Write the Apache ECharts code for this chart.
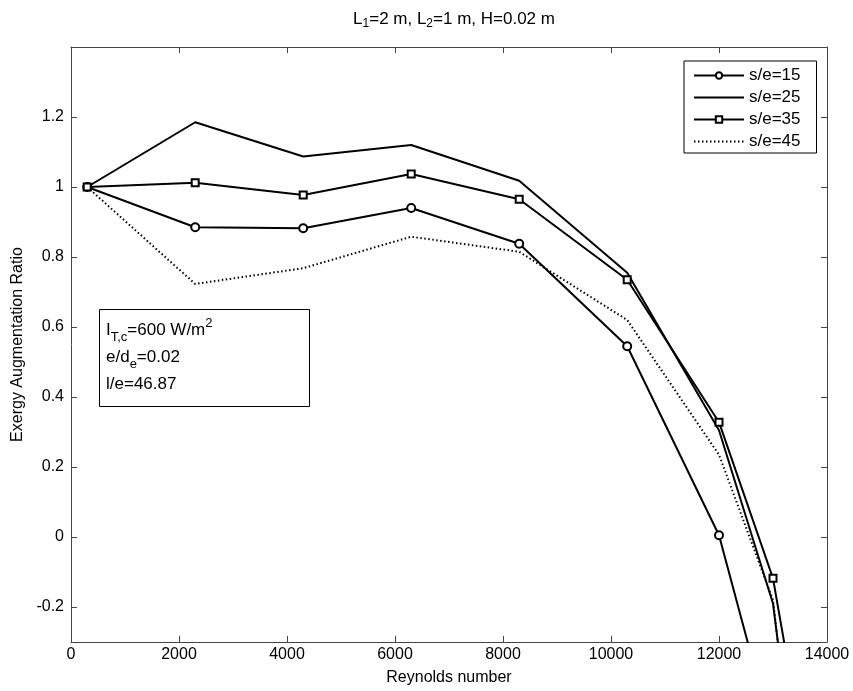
<!DOCTYPE html>
<html>
<head>
<meta charset="utf-8">
<title>Exergy Augmentation Ratio</title>
<script src="https://cdn.jsdelivr.net/npm/echarts@6/dist/echarts.min.js"></script>
<style>
  html, body { margin: 0; padding: 0; background: #fff; }
  #chart { width: 853px; height: 691px; }
</style>
</head>
<body>
<div id="chart"></div>
<script>
// data
const reynolds = [300, 2300, 4300, 6300, 8300, 10300, 12000, 13000, 13500]
const se15 = [1.0, 0.885, 0.882, 0.94, 0.838, 0.545, 0.005, -0.57, -1.1]
const se25 = [1.0, 1.185, 1.087, 1.12, 1.018, 0.755, 0.305, -0.19, -0.8]
const se35 = [1.0, 1.012, 0.977, 1.037, 0.965, 0.735, 0.328, -0.118, -0.56]
const se45 = [1.0, 0.723, 0.768, 0.858, 0.815, 0.62, 0.235, -0.18, -0.85]
const yTicks = [-0.2, 0, 0.2, 0.4, 0.6, 0.8, 1.0, 1.2]

const font = 'Liberation Sans, Arial, sans-serif'
const axisColor = '#444'

function pairs(ys) {
  return ys.map((y, i) => [reynolds[i], y])
}

function lineSeries(name, ys, opts) {
  return Object.assign({
    name: name,
    type: 'line',
    data: pairs(ys),
    xAxisIndex: 0,
    yAxisIndex: 0,
    symbol: 'none',
    symbolSize: 8,
    showAllSymbol: true,
    clip: true,
    animation: false,
    color: '#000',
    lineStyle: {color: '#000', width: 2},
    itemStyle: {color: '#fff', borderColor: '#000', borderWidth: 2}
  }, opts)
}

const chart = echarts.init(document.getElementById('chart'))

const option = {
  backgroundColor: '#fff',
  animation: false,
  textStyle: {fontFamily: font},
  title: {
    text: 'L{sub|1}=2 m, L{sub|2}=1 m, H=0.02 m',
    left: 449,
    textAlign: 'center',
    top: 3,
    textStyle: {
      fontFamily: font,
      fontSize: 17,
      fontWeight: 'normal',
      color: '#000',
      lineHeight: 22,
      rich: {
        sub: {fontFamily: font, fontSize: 12, lineHeight: 11, verticalAlign: 'bottom', color: '#000'}
      }
    }
  },
  legend: {
    left: 684,
    top: 61,
    orient: 'vertical',
    backgroundColor: '#fff',
    borderColor: '#000',
    borderWidth: 1,
    borderRadius: 0,
    padding: [6, 16, 3, 9],
    itemWidth: 50,
    itemHeight: 8,
    itemGap: 5,
    textStyle: {fontFamily: font, fontSize: 17, color: '#000'},
    data: [
      {name: 's/e=15'},
      {name: 's/e=25', itemStyle: {opacity: 0}},
      {name: 's/e=35'},
      {name: 's/e=45', itemStyle: {opacity: 0}}
    ]
  },
  grid: {left: 71, right: 26, top: 47, bottom: 47},
  xAxis: [
    {
      type: 'value',
      min: 0,
      max: 14000,
      interval: 2000,
      name: 'Reynolds number',
      nameLocation: 'middle',
      nameGap: 28,
      nameTextStyle: {fontFamily: font, fontSize: 16, color: '#000'},
      axisLine: {onZero: false, lineStyle: {color: axisColor, width: 1}},
      axisTick: {inside: true, length: 6, lineStyle: {color: axisColor}},
      axisLabel: {fontFamily: font, fontSize: 16, color: '#000', margin: 5, formatter: v => String(v)},
      splitLine: {show: false}
    },
    {
      type: 'value',
      position: 'top',
      min: 0,
      max: 14000,
      interval: 2000,
      axisLine: {show: true, onZero: false, lineStyle: {color: axisColor, width: 1}},
      axisTick: {inside: true, length: 6, lineStyle: {color: axisColor}},
      axisLabel: {show: false},
      splitLine: {show: false}
    }
  ],
  yAxis: [
    {
      type: 'value',
      min: -0.3,
      max: 1.4,
      name: 'Exergy Augmentation Ratio',
      nameLocation: 'middle',
      nameGap: 45,
      nameRotate: 90,
      nameTextStyle: {fontFamily: font, fontSize: 16, color: '#000'},
      axisLine: {show: true, onZero: false, lineStyle: {color: axisColor, width: 1}},
      axisTick: {inside: true, length: 6, customValues: yTicks, lineStyle: {color: axisColor}},
      axisLabel: {
        fontFamily: font, fontSize: 16, color: '#000', margin: 7,
        customValues: yTicks,
        formatter: v => String(Math.round(v * 10) / 10)
      },
      splitLine: {show: false}
    },
    {
      type: 'value',
      position: 'right',
      min: -0.3,
      max: 1.4,
      axisLine: {show: true, onZero: false, lineStyle: {color: axisColor, width: 1}},
      axisTick: {inside: true, length: 6, customValues: yTicks, lineStyle: {color: axisColor}},
      axisLabel: {show: false, customValues: yTicks},
      splitLine: {show: false}
    }
  ],
  series: [
    lineSeries('s/e=15', se15, {symbol: 'circle', symbolSize: 8}),
    lineSeries('s/e=25', se25, {symbol: 'none'}),
    lineSeries('s/e=35', se35, {symbol: 'rect', symbolSize: 7}),
    lineSeries('s/e=45', se45, {symbol: 'none', lineStyle: {color: '#000', width: 2, type: [1.5, 2.5]}})
  ],
  graphic: [
    {
      type: 'rect',
      left: 99,
      top: 309,
      shape: {width: 210, height: 97},
      style: {fill: '#fff', stroke: '#000', lineWidth: 1},
      z: 10
    },
    {
      type: 'text',
      left: 106,
      top: 317,
      z: 11,
      style: {
        text: 'I{sub|T,c}=600 W/m{sup|2}\ne/d{sub|e}=0.02\nl/e=46.87',
        fill: '#000',
        font: '17px ' + font,
        lineHeight: 27,
        rich: {
          sub: {fontFamily: font, fontSize: 13, lineHeight: 12, verticalAlign: 'bottom', fill: '#000'},
          sup: {fontFamily: font, fontSize: 13, lineHeight: 12, verticalAlign: 'top', fill: '#000'}
        }
      }
    }
  ]
}

chart.setOption(option)
</script>
</body>
</html>
